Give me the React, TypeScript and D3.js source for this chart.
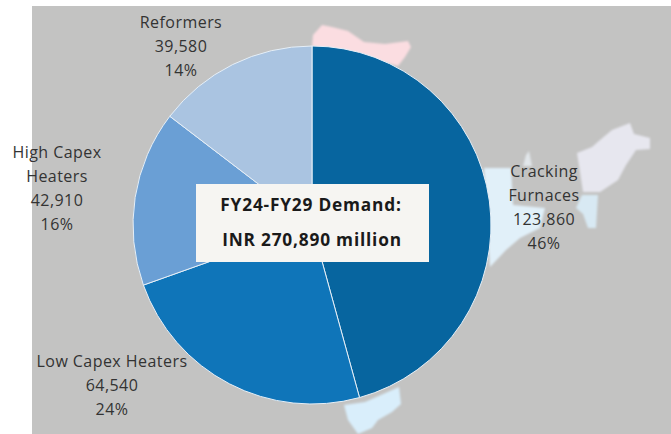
import React from "react";
import * as d3 from "d3";

const segments = ["Cracking Furnaces", "Low Capex Heaters", "High Capex Heaters", "Reformers"];
const demand = [123860, 64540, 42910, 39580];
const shares = ["46%", "24%", "16%", "14%"];
const sliceColors = ["#07659f", "#0f75b9", "#6a9fd5", "#aac4e1"];
const labelLines = [["Cracking", "Furnaces"], ["Low Capex Heaters"], ["High Capex", "Heaters"], ["Reformers"]];
const labelAnchors: [number, number][] = [[544, 177], [112, 367], [57, 158], [181, 28]];

const mapNorth: [number, number][] = [[313, 35], [322, 25], [332, 27], [348, 31], [364, 42], [385, 44], [408, 41], [411, 47], [405, 57], [398, 66], [360, 56], [312, 46]];
const mapEastPale: [number, number][] = [[577, 153], [592, 147], [600, 140], [612, 130], [630, 123], [634, 134], [650, 138], [650, 149], [636, 150], [626, 165], [618, 180], [600, 192], [583, 192], [580, 172]];
const mapEastBlue: [number, number][] = [[484, 168], [511, 168], [513, 205], [545, 208], [540, 228], [520, 238], [506, 250], [490, 267]];
const mapEastSliver: [number, number][] = [[576, 208], [582, 195], [598, 195], [596, 228], [588, 228], [583, 214]];
const mapSpike: [number, number][] = [[523, 166], [526, 155], [529, 151], [532, 166]];
const mapSouth: [number, number][] = [[344, 405], [365, 402], [399, 387], [401, 404], [392, 412], [378, 420], [372, 428], [358, 434], [348, 420]];

const WIDTH = 671;
const HEIGHT = 434;
const CX = 312;
const CY = 225;
const R = 179;

const outline = d3.line<[number, number]>().curve(d3.curveLinearClosed);
const pie = d3.pie<number>().sort(null);
const arc = d3.arc<d3.PieArcDatum<number>>().innerRadius(0).outerRadius(R);
const fmt = d3.format(",");

export default function App() {
  const arcs = pie(demand);
  return (
    <svg width={WIDTH} height={HEIGHT} style={{ position: "absolute", left: 0, top: 0, background: "#fff" }} fontFamily="'Open Sans', sans-serif">
      <defs>
        <filter id="soft" x="-5%" y="-5%" width="110%" height="110%">
          <feGaussianBlur stdDeviation={0.8} />
        </filter>
      </defs>
      <rect x={32} y={6} width={WIDTH - 32} height={HEIGHT - 6} fill="#c3c3c2" />
      <g filter="url(#soft)">
        <path d={outline(mapNorth) ?? ""} fill="#fbdde1" />
        <path d={outline(mapEastPale) ?? ""} fill="#e7e7ef" />
        <path d={outline(mapEastBlue) ?? ""} fill="#e1f0f9" />
        <path d={outline(mapEastSliver) ?? ""} fill="#d8e9f3" />
        <path d={outline(mapSpike) ?? ""} fill="#e1e6ea" />
        <path d={outline(mapSouth) ?? ""} fill="#d9eefb" />
      </g>
      <g transform={`translate(${CX},${CY})`}>
        {arcs.map((a, i) => (
          <path key={segments[i]} d={arc(a) ?? ""} fill={sliceColors[i]} stroke="#e6eff7" strokeWidth={1} />
        ))}
      </g>
      <rect x={196} y={184} width={233} height={78} fill="#f6f5f2" />
      <text x={311} y={211} textAnchor="middle" fontSize={17.3} fontWeight={700} letterSpacing={0.8} fill="#1a1a1a">FY24-FY29 Demand:</text>
      <text x={312} y={246} textAnchor="middle" fontSize={17.3} fontWeight={700} letterSpacing={0.8} fill="#1a1a1a">INR 270,890 million</text>
      {segments.map((s, i) => {
        const lines = [...labelLines[i], fmt(demand[i]), shares[i]];
        const [x, y] = labelAnchors[i];
        return (
          <text key={s} textAnchor="middle" fontSize={16} letterSpacing={0.45} fill="#333">
            {lines.map((l, j) => (
              <tspan key={j} x={x} y={y + j * 24}>{l}</tspan>
            ))}
          </text>
        );
      })}
    </svg>
  );
}
